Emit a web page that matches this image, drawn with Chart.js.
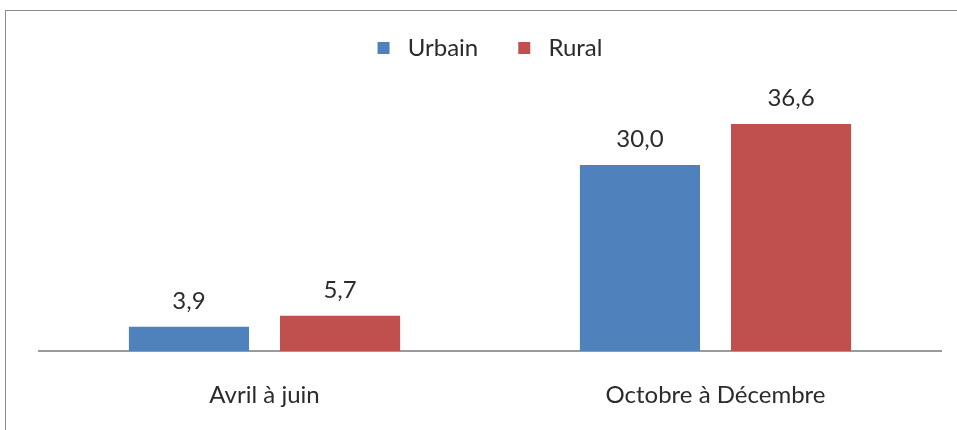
<!DOCTYPE html>
<html lang="fr">
<head>
    <meta charset="UTF-8">
    <title>Urbain / Rural</title>
    <script src="https://cdn.jsdelivr.net/npm/chart.js"></script>
    <style>
        body {
            margin: 0;
            background: #fff;
            font-family: 'Lato', sans-serif;
        }
        .frame {
            position: absolute;
            left: 5px;
            top: 10px;
            width: 1000px;
            height: 500px;
            border: 1.5px solid #8a8a8a;
        }
        #chart {
            position: absolute;
            left: 0;
            top: 0;
        }
    </style>
</head>
<body>
    <div class="frame"></div>
    <canvas id="chart" width="957" height="430"></canvas>

    <script>
        // Data
        const categories = ['Avril à juin', 'Octobre à Décembre'];
        const urbain = [3.9, 30.0];
        const rural = [5.7, 36.6];

        const textColor = '#2b2b2b';

        // Value labels above bars, French decimal comma
        const valueLabels = {
            id: 'valueLabels',
            afterDatasetsDraw(chart) {
                const ctx = chart.ctx;
                ctx.save();
                ctx.font = '24px Lato';
                ctx.fillStyle = textColor;
                ctx.textAlign = 'center';
                ctx.textBaseline = 'alphabetic';
                chart.data.datasets.forEach((ds, i) => {
                    chart.getDatasetMeta(i).data.forEach((bar, j) => {
                        const txt = ds.data[j].toFixed(1).replace('.', ',');
                        ctx.fillText(txt, bar.x, bar.y - 18);
                    });
                });
                ctx.restore();
            }
        };

        // Fixed legend height so the plot starts lower
        const legendSpace = {
            id: 'legendSpace',
            beforeInit(chart) {
                const fit = chart.legend.fit;
                chart.legend.fit = function () {
                    fit.bind(chart.legend)();
                    this.height = 107;
                };
            }
        };

        new Chart(document.getElementById('chart'), {
            type: 'bar',
            data: {
                labels: categories,
                datasets: [
                    {
                        label: 'Urbain',
                        data: urbain,
                        backgroundColor: '#4F81BD'
                    },
                    {
                        label: 'Rural',
                        data: rural,
                        backgroundColor: '#C0504D'
                    }
                ]
            },
            options: {
                responsive: false,
                animation: false,
                layout: {
                    padding: { left: 39, right: 16, top: -4, bottom: 0 }
                },
                datasets: {
                    bar: {
                        categoryPercentage: 0.67,
                        barPercentage: 0.795
                    }
                },
                plugins: {
                    legend: {
                        position: 'top',
                        labels: {
                            boxWidth: 12,
                            boxHeight: 12,
                            padding: 40,
                            color: textColor,
                            font: { family: 'Lato', size: 24 },
                            generateLabels(chart) {
                                const items = Chart.defaults.plugins.legend.labels.generateLabels(chart);
                                items.forEach(it => { it.text = ' ' + it.text; it.lineWidth = 0; });
                                return items;
                            }
                        }
                    },
                    tooltip: { enabled: false }
                },
                scales: {
                    x: {
                        grid: { display: false, drawTicks: false },
                        border: { display: true, color: '#9a9a9a', width: 2 },
                        ticks: {
                            padding: 30,
                            color: textColor,
                            font: { family: 'Lato', size: 24 }
                        },
                        afterFit(scale) {
                            scale.height = 79;
                        }
                    },
                    y: {
                        display: false,
                        min: 0,
                        max: 40
                    }
                }
            },
            plugins: [valueLabels, legendSpace]
        });
    </script>
</body>
</html>
